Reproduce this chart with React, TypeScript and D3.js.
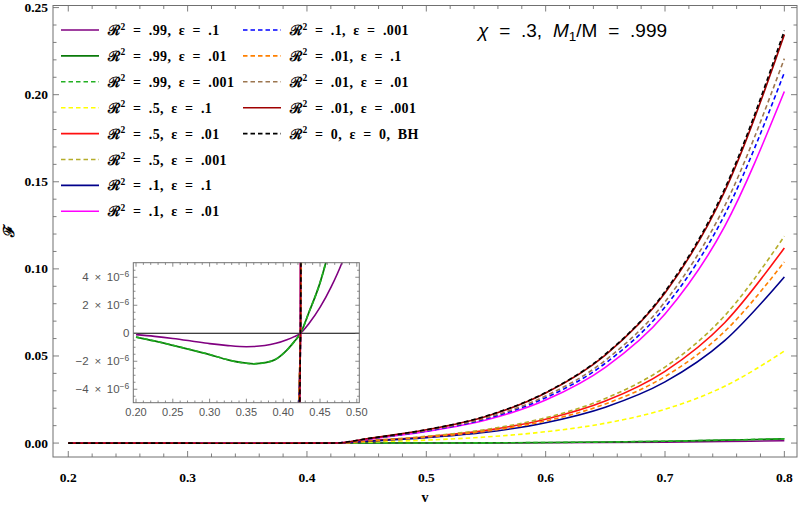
import * as d3 from "d3";

// sample points of v used for the main panel
const vGrid = [0.2, 0.25, 0.3, 0.35, 0.4, 0.4235, 0.45, 0.5, 0.55, 0.6, 0.65, 0.7, 0.75, 0.8];

// F(v), one array per curve (legend order)
const f_r99_e1 = [-0.0000001, -0.0000004, -0.0000007, -0.0000009, -0.0000007, 0, 0.000002, 0.00002, 0.00006, 0.00015, 0.0003, 0.00055, 0.0009, 0.0013];
const f_r99_e01 = [-0.0000003, -0.0000009, -0.0000015, -0.0000021, -0.0000018, 0, 0.000003, 0.00004, 0.00012, 0.0003, 0.0006, 0.00105, 0.0017, 0.0024];
const f_r99_e001 = [-0.0000003, -0.0000009, -0.0000015, -0.0000021, -0.0000018, 0, 0.000003, 0.00004, 0.00012, 0.0003, 0.0006, 0.00105, 0.0017, 0.0025];
const f_r5_e1 = [-0.00001, -0.00002, -0.00003, -0.00004, -0.00003, 0, 0.0006, 0.0017, 0.0035, 0.0065, 0.0114, 0.0194, 0.0326, 0.0528];
const f_r5_e01 = [-0.00001, -0.00002, -0.00003, -0.00004, -0.00003, 0, 0.0012, 0.0036, 0.0073, 0.0137, 0.0241, 0.0412, 0.0691, 0.112];
const f_r5_e001 = [-0.00001, -0.00002, -0.00003, -0.00004, -0.00003, 0, 0.0013, 0.0039, 0.0078, 0.0145, 0.0256, 0.0436, 0.0731, 0.1187];
const f_r1_e1 = [-0.00001, -0.00002, -0.00003, -0.00004, -0.00003, 0, 0.001, 0.0031, 0.0062, 0.0117, 0.0206, 0.0351, 0.0588, 0.0954];
const f_r1_e01 = [-0.00002, -0.00004, -0.00006, -0.00008, -0.00006, 0, 0.0021, 0.0066, 0.0132, 0.0247, 0.0435, 0.0741, 0.1244, 0.2018];
const f_r1_e001 = [-0.00002, -0.00004, -0.00006, -0.00008, -0.00006, 0, 0.0022, 0.0069, 0.0139, 0.026, 0.0458, 0.0781, 0.1311, 0.2127];
const f_r01_e1 = [-0.00001, -0.00002, -0.00003, -0.00004, -0.00003, 0, 0.0011, 0.0034, 0.0068, 0.0127, 0.0224, 0.0382, 0.0641, 0.104];
const f_r01_e01 = [-0.00002, -0.00004, -0.00006, -0.00008, -0.00006, 0, 0.0023, 0.0072, 0.0144, 0.027, 0.0475, 0.0811, 0.1361, 0.2207];
const f_r01_e001 = [-0.00002, -0.00004, -0.00006, -0.00008, -0.00006, 0, 0.0025, 0.0076, 0.0153, 0.0287, 0.0505, 0.0861, 0.1445, 0.2345];
const f_bh = [-0.00002, -0.00004, -0.00006, -0.00008, -0.00006, 0, 0.0025, 0.0077, 0.0155, 0.029, 0.051, 0.087, 0.146, 0.2368];

// inset: the R^2 = .99 curves, in units of 1e-6
const insetV = [0.2, 0.225, 0.25, 0.275, 0.3, 0.325, 0.35, 0.36, 0.375, 0.39, 0.405, 0.415, 0.4235, 0.435, 0.45, 0.465, 0.48, 0.49];
const inset_r99_e1 = [-0.1, -0.22, -0.37, -0.55, -0.74, -0.88, -0.96, -0.95, -0.88, -0.72, -0.46, -0.24, 0, 0.7, 1.85, 3.3, 5.06, 6.5];
const inset_r99_e01 = [-0.27, -0.55, -0.86, -1.18, -1.52, -1.9, -2.14, -2.18, -2.1, -1.85, -1.2, -0.6, 0, 1.5, 3.6, 6.5, 10, 13];

const r2Labels = [".99", ".99", ".99", ".5", ".5", ".5", ".1", ".1", ".1", ".01", ".01", ".01", "0"];
const epsLabels = [".1", ".01", ".001", ".1", ".01", ".001", ".1", ".01", ".001", ".1", ".01", ".001", "0"];

const xTicks = [0.2, 0.3, 0.4, 0.5, 0.6, 0.7, 0.8];
const xTickLabels = ["0.2", "0.3", "0.4", "0.5", "0.6", "0.7", "0.8"];
const yTicks = [0, 0.05, 0.1, 0.15, 0.2, 0.25];
const yTickLabels = ["0.00", "0.05", "0.10", "0.15", "0.20", "0.25"];
const insetXTicks = [0.2, 0.25, 0.3, 0.35, 0.4, 0.45, 0.5];
const insetXTickLabels = ["0.20", "0.25", "0.30", "0.35", "0.40", "0.45", "0.50"];
const insetYTicks = [-4, -2, 0, 2, 4];
const insetYTickLabels = ["\u22124", "\u22122", "0", "2", "4"];

const series = [f_r99_e1, f_r99_e01, f_r99_e001, f_r5_e1, f_r5_e01, f_r5_e001, f_r1_e1, f_r1_e01, f_r1_e001, f_r01_e1, f_r01_e01, f_r01_e001, f_bh];
const colors = ["#800080", "#0a7a0a", "#22b022", "#ffff00", "#ff1010", "#b5ad2a", "#00008b", "#ff00ff", "#0000ff", "#ff8000", "#9c7650", "#a00000", "#000000"];
const dashed = [false, false, true, true, false, true, false, false, true, true, true, false, true];

const serif = "'Liberation Serif', 'DejaVu Serif', serif";
const sans = "'Liberation Sans', Arial, sans-serif";
const frameColor = "#707070";

const W = 800, H = 508;
const x = d3.scaleLinear([0.1872, 0.8106], [53, 797]);
const y = d3.scaleLinear([-0.008, 0.2512], [457, 5.5]);
const ix = d3.scaleLinear([0.19633, 0.50339], [133.3, 359.3]);
const iy = d3.scaleLinear([-4.96, 5.04], [402.7, 262.7]);

const mainLine = d3.line<number>().x((_, i) => x(vGrid[i])).y(d => y(d)).curve(d3.curveMonotoneX);
const insetMainLine = d3.line<number>().x((_, i) => ix(vGrid[i])).y(d => iy(d * 1e6)).curve(d3.curveMonotoneX);
const insetLine = d3.line<number>().x((_, i) => ix(insetV[i])).y(d => iy(d)).curve(d3.curveMonotoneX);

const minor = (a: number, b: number, step: number, majors: number[]) =>
  d3.range(Math.round((b - a) / step) + 1).map(k => a + k * step).filter(v => !majors.some(m => Math.abs(m - v) < step / 10));

function Legend() {
  return (
    <g fontFamily={serif} fontWeight="bold" fontSize={14} style={{ whiteSpace: "pre", wordSpacing: "3.5px", letterSpacing: "0.4px" }}>
      {series.map((_, i) => {
        const col = i < 8 ? 0 : 1;
        const row = i < 8 ? i : i - 8;
        const lx = col === 0 ? 61 : 243;
        const ly = 30 + row * 25.9;
        return (
          <g key={i}>
            <line x1={lx} x2={lx + 38} y1={ly} y2={ly} stroke={colors[i]} strokeWidth={1.6}
              strokeDasharray={dashed[i] ? "4.5,3" : undefined} />
            <text x={lx + 47} y={ly + 5} fill="#000">
              <tspan>ℛ</tspan>
              <tspan dy={-5.5} fontSize={9.5}>2</tspan>
              <tspan dy={5.5}>{` = ${r2Labels[i]}, ε = ${epsLabels[i]}${i === 12 ? ", BH" : ""}`}</tspan>
            </text>
          </g>
        );
      })}
    </g>
  );
}

function Inset() {
  const xMin = minor(0.2, 0.5, 0.01, insetXTicks);
  const yMin = minor(-4.5, 4.5, 0.5, insetYTicks);
  const [x0, x1] = ix.range();
  const [y0, y1] = iy.range();
  return (
    <g>
      <rect x={x0} y={y1} width={x1 - x0} height={y0 - y1} fill="#fff" />
      <clipPath id="insetClip"><rect x={x0} y={y1} width={x1 - x0} height={y0 - y1} /></clipPath>
      <line x1={x0} x2={x1} y1={iy(0)} y2={iy(0)} stroke="#000" strokeWidth={1} />
      <g clipPath="url(#insetClip)" fill="none">
        <path d={insetLine(inset_r99_e1)!} stroke={colors[0]} strokeWidth={1.6} />
        <path d={insetLine(inset_r99_e01)!} stroke={colors[1]} strokeWidth={1.8} />
        <path d={insetLine(inset_r99_e01)!} stroke={colors[2]} strokeWidth={1.6} strokeDasharray="4.5,3" />
        {series.map((s, i) => i < 3 ? null : (
          <path key={i} d={insetMainLine(s)!} stroke={colors[i]} strokeWidth={1.6}
            strokeDasharray={dashed[i] ? "4.5,3" : undefined} />
        ))}
      </g>
      <rect x={x0} y={y1} width={x1 - x0} height={y0 - y1} fill="none" stroke={frameColor} strokeWidth={1} />
      <g stroke={frameColor} strokeWidth={0.8}>
        {insetXTicks.map(v => <g key={"ixm" + v}>
          <line x1={ix(v)} x2={ix(v)} y1={y0} y2={y0 - 4} />
          <line x1={ix(v)} x2={ix(v)} y1={y1} y2={y1 + 4} />
        </g>)}
        {xMin.map(v => <g key={"ixn" + v}>
          <line x1={ix(v)} x2={ix(v)} y1={y0} y2={y0 - 2.2} />
          <line x1={ix(v)} x2={ix(v)} y1={y1} y2={y1 + 2.2} />
        </g>)}
        {insetYTicks.map(v => <g key={"iym" + v}>
          <line x1={x0} x2={x0 + 4} y1={iy(v)} y2={iy(v)} />
          <line x1={x1} x2={x1 - 4} y1={iy(v)} y2={iy(v)} />
        </g>)}
        {yMin.map(v => <g key={"iyn" + v}>
          <line x1={x0} x2={x0 + 2.2} y1={iy(v)} y2={iy(v)} />
          <line x1={x1} x2={x1 - 2.2} y1={iy(v)} y2={iy(v)} />
        </g>)}
      </g>
      <g fontFamily={sans} fill="#555" style={{ whiteSpace: "pre" }}>
        {insetXTicks.map((v, i) => (
          <text key={v} x={ix(v)} y={y0 + 13} textAnchor="middle" fontSize={11}>{insetXTickLabels[i]}</text>
        ))}
        {insetYTicks.map((v, i) => (
          <text key={v} x={x0 - 4} y={iy(v) + 4} textAnchor="end" fontSize={11.5} style={{ wordSpacing: "2.5px" }}>
            {v === 0 ? "0" : (
              <>
                <tspan>{`${insetYTickLabels[i]} \u00d7 10`}</tspan>
                <tspan dy={-4.5} fontSize={8.5}>{"\u22126"}</tspan>
              </>
            )}
          </text>
        ))}
      </g>
    </g>
  );
}

export default function App() {
  const xMin = minor(0.2, 0.8, 0.02, xTicks);
  const yMin = minor(0, 0.25, 0.01, yTicks);
  const [x0, x1] = x.range();
  const [y0, y1] = y.range();
  return (
    <svg width={W} height={H} style={{ position: "absolute", left: 0, top: 0, background: "#fff" }}>
      <rect x={0} y={0} width={W} height={H} fill="#fff" />
      <clipPath id="mainClip"><rect x={x0} y={y1} width={x1 - x0} height={y0 - y1} /></clipPath>
      <g clipPath="url(#mainClip)" fill="none">
        {series.map((s, i) => (
          <path key={i} d={mainLine(s)!} stroke={colors[i]} strokeWidth={1.6}
            strokeDasharray={dashed[i] ? "4.5,3" : undefined} />
        ))}
      </g>
      <rect x={x0} y={y1} width={x1 - x0} height={y0 - y1} fill="none" stroke={frameColor} strokeWidth={1} />
      <g stroke={frameColor} strokeWidth={0.9}>
        {xTicks.map(v => <g key={"xm" + v}>
          <line x1={x(v)} x2={x(v)} y1={y0} y2={y0 - 6} />
          <line x1={x(v)} x2={x(v)} y1={y1} y2={y1 + 6} />
        </g>)}
        {xMin.map(v => <g key={"xn" + v}>
          <line x1={x(v)} x2={x(v)} y1={y0} y2={y0 - 3.5} />
          <line x1={x(v)} x2={x(v)} y1={y1} y2={y1 + 3.5} />
        </g>)}
        {yTicks.map(v => <g key={"ym" + v}>
          <line x1={x0} x2={x0 + 6} y1={y(v)} y2={y(v)} />
          <line x1={x1} x2={x1 - 6} y1={y(v)} y2={y(v)} />
        </g>)}
        {yMin.map(v => <g key={"yn" + v}>
          <line x1={x0} x2={x0 + 3.5} y1={y(v)} y2={y(v)} />
          <line x1={x1} x2={x1 - 3.5} y1={y(v)} y2={y(v)} />
        </g>)}
      </g>
      <g fontFamily={serif} fontWeight="bold" fontSize={13.5} fill="#000">
        {xTicks.map((v, i) => (
          <text key={v} x={x(v)} y={482} textAnchor="middle">{xTickLabels[i]}</text>
        ))}
        {yTicks.map((v, i) => (
          <text key={v} x={48} y={y(v) + 4.5} textAnchor="end">{yTickLabels[i]}</text>
        ))}
        <text x={(x0 + x1) / 2} y={502} textAnchor="middle" fontSize={14}>v</text>
        <text transform={`translate(14,${(y0 + y1) / 2}) rotate(-90)`} textAnchor="middle" fontSize={15}>ℱ</text>
      </g>
      <text x={478} y={37} fontFamily={sans} fontSize={19} fill="#000" style={{ whiteSpace: "pre", wordSpacing: "5.5px" }}>
        <tspan fontStyle="italic">χ</tspan>
        <tspan>{" = .3, "}</tspan>
        <tspan fontStyle="italic">M</tspan>
        <tspan dy={4} fontSize={13.5}>1</tspan>
        <tspan dy={-4}>{"/M = .999"}</tspan>
      </text>
      <Legend />
      <Inset />
    </svg>
  );
}
